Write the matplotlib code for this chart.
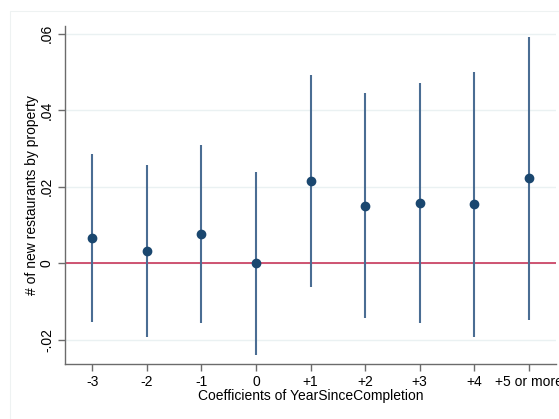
import matplotlib
matplotlib.use("Agg")
import matplotlib.pyplot as plt
from matplotlib.patches import Rectangle

plt.rcParams['font.family'] = ['Liberation Sans', 'DejaVu Sans']

# Event-study coefficients with 95% confidence intervals
labels = ["-3", "-2", "-1", "0", "+1", "+2", "+3", "+4", "+5 or more"]
coef = [0.0065, 0.0031, 0.0076, 0.0, 0.0214, 0.0149, 0.0157, 0.0154, 0.0222]
ci_low = [-0.0154, -0.0193, -0.0157, -0.0240, -0.0063, -0.0144, -0.0157, -0.0193, -0.0149]
ci_high = [0.0284, 0.0256, 0.0308, 0.0238, 0.0492, 0.0444, 0.0470, 0.0499, 0.0591]
yticks = [-0.02, 0, 0.02, 0.04, 0.06]
ytick_labels = ["-.02", "0", ".02", ".04", ".06"]

W, H = 559, 419
fig = plt.figure(figsize=(W / 100, H / 100), dpi=100)
fig.patch.set_facecolor("white")

# faint outer graph-region frame
fig.patches.append(Rectangle((10 / W, -0.1), 1.2, 1.1 - 11 / H,
                             transform=fig.transFigure, fill=False,
                             edgecolor="#eef2f2", linewidth=0.8))

ax = fig.add_axes([65 / W, 55 / H, (556 - 65) / W, (364 - 26) / H])
x = list(range(len(labels)))

ax.vlines(x, ci_low, ci_high, color="#4a6d93", linewidth=1.5, zorder=2)
ax.plot(x, coef, "o", color="#1a476f", markersize=6, zorder=3)
ax.axhline(0, color="#c8385a", linewidth=1.2, zorder=1)

ax.set_xlim(-0.5, 8.5)
ax.set_ylim(-0.0264, 0.062)
ax.set_xticks(x)
ax.set_xticklabels(labels, fontsize=10)
ax.set_yticks(yticks)
ax.set_yticklabels(ytick_labels, fontsize=10, rotation=90, va="center")
ax.grid(axis="y", color="#eaf1f2", linewidth=1.0, zorder=0)
ax.set_axisbelow(True)

for s in ["top", "right"]:
    ax.spines[s].set_visible(False)
for s in ["left", "bottom"]:
    ax.spines[s].set_color("#6b6b6b")
    ax.spines[s].set_linewidth(1.0)
ax.tick_params(axis="both", color="#6b6b6b", length=5, width=1.0, pad=3)

ax.set_xlabel("Coefficients of YearSinceCompletion", fontsize=10, labelpad=0)
ax.set_ylabel("# of new restaurants by property", fontsize=10, labelpad=0.5)

fig.savefig("out.png", dpi=100)
